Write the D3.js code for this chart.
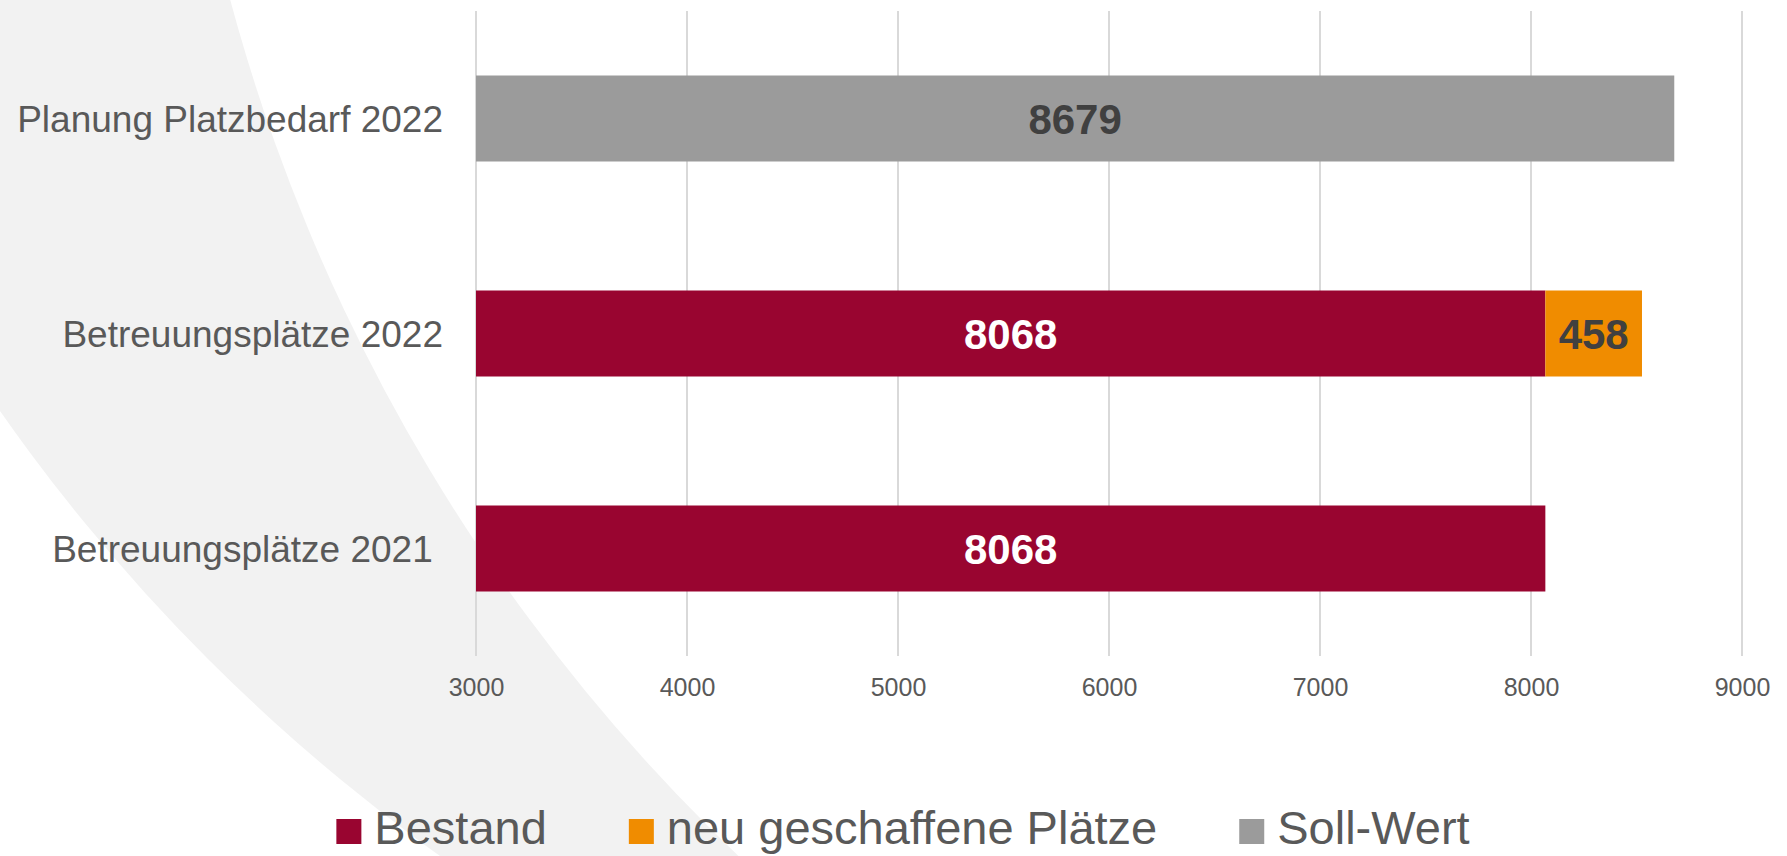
<!DOCTYPE html>
<html>
<head>
<meta charset="utf-8">
<script src="https://cdn.jsdelivr.net/npm/d3@7"></script>
<style>
  html, body { margin: 0; padding: 0; background: #ffffff; }
  svg { display: block; }
  text { font-family: "Liberation Sans", Arial, Helvetica, sans-serif; }
</style>
</head>
<body>
<svg id="chart" width="1787" height="856"></svg>
<script>
// ---- data ----
const categories = ["Planung Platzbedarf 2022", "Betreuungsplätze 2022", "Betreuungsplätze 2021 "];
const bestand = [null, 8068, 8068];
const neuePlaetze = [null, 458, null];
const sollWert = [8679, null, null];
const tickValues = [3000, 4000, 5000, 6000, 7000, 8000, 9000];
const seriesNames = ["Bestand", "neu geschaffene Plätze", "Soll-Wert"];
const seriesColors = ["#990530", "#F08C00", "#9B9B9B"];
const labelColors = ["#FFFFFF", "#404040", "#404040"];

// ---- layout ----
const W = 1787, H = 856;
const plot = { left: 476, right: 1742, top: 11, bottom: 656 };
const svg = d3.select("#chart");

// decorative background band (two large circles)
const deco = svg.append("g");
deco.append("rect").attr("width", W).attr("height", H).attr("fill", "#ffffff");
deco.append("circle").attr("cx", 1523).attr("cy", -655).attr("r", 1859).attr("fill", "#F2F2F2");
deco.append("circle").attr("cx", 2012).attr("cy", -479).attr("r", 1845).attr("fill", "#ffffff");

const x = d3.scaleLinear().domain([3000, 9000]).range([plot.left, plot.right]);
const y = d3.scaleBand().domain(categories).range([plot.top, plot.bottom])
  .paddingInner(0.6).paddingOuter(0.3);

// gridlines
svg.append("g").selectAll("line").data(tickValues).join("line")
  .attr("x1", d => x(d)).attr("x2", d => x(d))
  .attr("y1", plot.top).attr("y2", plot.bottom)
  .attr("stroke", "#D9D9D9").attr("stroke-width", 2);

// x axis labels
const xAxis = d3.axisBottom(x).tickValues(tickValues).tickSize(0).tickPadding(0).tickFormat(d3.format("d"));
const gx = svg.append("g").attr("transform", `translate(0,${plot.bottom})`).call(xAxis);
gx.select(".domain").remove();
gx.selectAll("text").attr("font-size", 25).attr("fill", "#595959")
  .attr("font-family", "Liberation Sans, Arial, sans-serif")
  .attr("dy", null).attr("y", 40);

// y axis labels
const yAxis = d3.axisLeft(y).tickSize(0).tickPadding(33);
const gy = svg.append("g").attr("transform", `translate(${plot.left},0)`).call(yAxis);
gy.select(".domain").remove();
gy.selectAll("text").attr("font-size", 37).attr("fill", "#595959")
  .attr("font-family", "Liberation Sans, Arial, sans-serif")
  .style("white-space", "pre")
  .attr("dy", "0.36em");

// segments
const segments = [];
categories.forEach((c, i) => {
  let base = 3000;
  if (bestand[i] != null) { segments.push({ c, s: 0, x0: base, x1: bestand[i], v: bestand[i] }); base = bestand[i]; }
  if (neuePlaetze[i] != null) { segments.push({ c, s: 1, x0: base, x1: base + neuePlaetze[i], v: neuePlaetze[i] }); }
  if (sollWert[i] != null) { segments.push({ c, s: 2, x0: 3000, x1: sollWert[i], v: sollWert[i] }); }
});

svg.append("g").selectAll("rect").data(segments).join("rect")
  .attr("x", d => x(d.x0)).attr("width", d => x(d.x1) - x(d.x0))
  .attr("y", d => y(d.c)).attr("height", y.bandwidth())
  .attr("fill", d => seriesColors[d.s]);

svg.append("g").selectAll("text").data(segments).join("text")
  .attr("x", d => (x(d.x0) + x(d.x1)) / 2)
  .attr("y", d => y(d.c) + y.bandwidth() / 2)
  .attr("dy", "0.36em")
  .attr("text-anchor", "middle")
  .attr("font-size", 42).attr("font-weight", "bold")
  .attr("fill", d => labelColors[d.s])
  .text(d => d.v);

// legend
const legend = svg.append("g");
const items = legend.selectAll("g").data(seriesNames).join("g");
items.append("rect").attr("width", 25).attr("height", 25).attr("y", -25)
  .attr("fill", (d, i) => seriesColors[i]);
items.append("text").attr("x", 38).attr("y", 0)
  .attr("font-size", 47).attr("fill", "#595959").text(d => d);
let cx = 0;
const gap = 82;
items.each(function () {
  const w = 38 + this.querySelector("text").getComputedTextLength();
  d3.select(this).attr("transform", `translate(${cx},844)`);
  cx += w + gap;
});
const total = cx - gap;
legend.attr("transform", `translate(${903 - total / 2},0)`);
</script>
</body>
</html>
